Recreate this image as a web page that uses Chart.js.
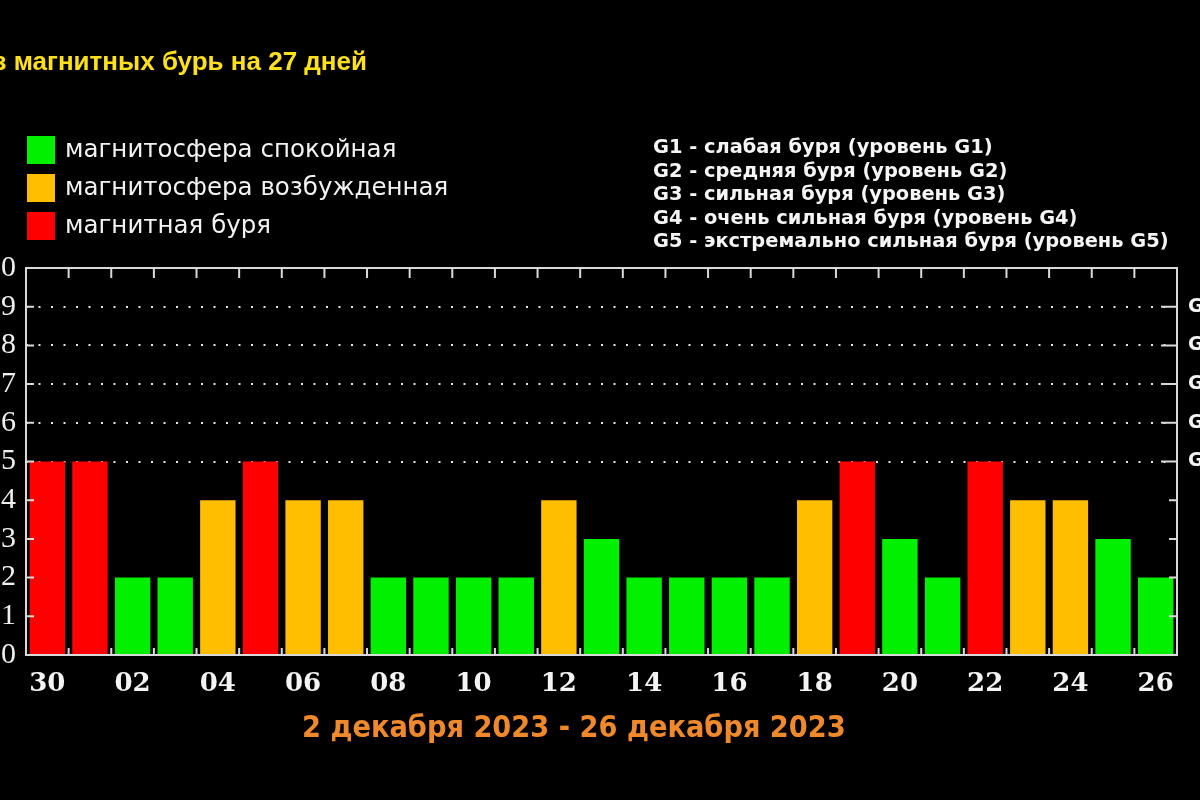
<!DOCTYPE html>
<html>
<head>
<meta charset="utf-8">
<script src="https://cdn.jsdelivr.net/npm/chart.js@4.4.1/dist/chart.umd.min.js"></script>
<style>
  body { margin: 0; background: #000; overflow: hidden; }
  #wrap { position: relative; width: 1200px; height: 800px; overflow: hidden; background: #000; }
  #chartBox { position: absolute; left: 0; top: 0; width: 1200px; height: 800px; }
  #title { position: absolute; right: 833px; top: 46px; white-space: nowrap;
           font: bold 26px "Liberation Sans", Arial, sans-serif; color: #ffe01b; }
  .leg { position: absolute; left: 27px; height: 28px; white-space: nowrap; }
  .leg span.box { position: absolute; left: 0; top: 0; width: 28px; height: 28px; }
  .leg span.txt { position: absolute; left: 38px; top: -2px; line-height: 28px;
                  font: 24.5px "DejaVu Sans", sans-serif; color: #f2f2f2; }
  #gscale { position: absolute; left: 653px; top: 135px; white-space: nowrap;
            font: bold 19.4px "DejaVu Sans", sans-serif; color: #f5f5f5; line-height: 23.5px; }
  #period { position: absolute; left: 302px; top: 709px; white-space: nowrap;
            font: bold 30.3px "DejaVu Sans Condensed", sans-serif; color: #f0892b; }
</style>
</head>
<body>
<div id="wrap">
  <div id="chartBox"><canvas id="myChart"></canvas></div>
  <div id="title">Прогноз магнитных бурь на 27 дней</div>
  <div id="legend"></div>
  <div id="gscale"></div>
  <div id="period">2 декабря 2023 - 26 декабря 2023</div>
</div>
<script>
// days of the forecast (30 Nov .. 26 Dec)
var days = ['30', '01', '02', '03', '04', '05', '06', '07', '08', '09', '10', '11', '12', '13',
            '14', '15', '16', '17', '18', '19', '20', '21', '22', '23', '24', '25', '26'];
var kpValues = [5, 5, 2, 2, 4, 5, 4, 4, 2, 2, 2, 2, 4, 3, 2, 2, 2, 2, 4, 5, 3, 2, 5, 4, 4, 3, 2];

var legendLabels = ['магнитосфера спокойная', 'магнитосфера возбужденная', 'магнитная буря'];
var legendColors = ['#00f000', '#ffbf00', '#ff0000'];

var gLevels = [5, 6, 7, 8, 9];
var gLabels = ['G1', 'G2', 'G3', 'G4', 'G5'];
var gDescriptions = [
  'G1 - слабая буря (уровень G1)',
  'G2 - средняя буря (уровень G2)',
  'G3 - сильная буря (уровень G3)',
  'G4 - очень сильная буря (уровень G4)',
  'G5 - экстремально сильная буря (уровень G5)'
];

// quiet up to 3, active at 4, storm from 5
function colorFor(v) {
  if (v >= 5) return legendColors[2];
  if (v >= 4) return legendColors[1];
  return legendColors[0];
}

// legend + G scale text
var legendEl = document.getElementById('legend');
legendLabels.forEach(function (lbl, i) {
  var row = document.createElement('div');
  row.className = 'leg';
  row.style.top = (136 + i * 38) + 'px';
  row.innerHTML = '<span class="box" style="background:' + legendColors[i] + '"></span>' +
                  '<span class="txt">' + lbl + '</span>';
  legendEl.appendChild(row);
});
document.getElementById('gscale').innerHTML = gDescriptions.join('<br>');

// frame with inward tick marks
var framePlugin = {
  id: 'frame',
  afterDatasetsDraw: function (chart) {
    var ctx = chart.ctx, a = chart.chartArea, x = chart.scales.x, y = chart.scales.y;
    ctx.save();
    ctx.strokeStyle = '#d9d9d9';
    ctx.lineWidth = 2;
    ctx.strokeRect(a.left, a.top, a.right - a.left, a.bottom - a.top);
    ctx.beginPath();
    for (var v = 1; v < 10; v++) {
      var py = y.getPixelForValue(v);
      ctx.moveTo(a.left, py); ctx.lineTo(a.left + 8, py);
      ctx.moveTo(a.right, py); ctx.lineTo(a.right - (v >= 5 ? 16 : 8), py);
    }
    for (var i = 0; i < days.length - 1; i++) {
      var px = (x.getPixelForValue(i) + x.getPixelForValue(i + 1)) / 2;
      ctx.moveTo(px, a.top); ctx.lineTo(px, a.top + 10);
      ctx.moveTo(px, a.bottom); ctx.lineTo(px, a.bottom - 7);
    }
    ctx.stroke();
    ctx.restore();
  }
};

var ctx = document.getElementById('myChart').getContext('2d');
var myChart = new Chart(ctx, {
  type: 'bar',
  data: {
    labels: days,
    datasets: [{
      data: kpValues,
      backgroundColor: kpValues.map(colorFor),
      borderWidth: 0,
      barPercentage: 0.83,
      categoryPercentage: 1
    }]
  },
  options: {
    responsive: true,
    maintainAspectRatio: false,
    animation: false,
    layout: { padding: { top: 268, left: 0, right: 0, bottom: 0 } },
    plugins: { legend: { display: false }, tooltip: { enabled: false } },
    scales: {
      x: {
        grid: { display: false, drawTicks: false },
        border: { display: false },
        ticks: {
          autoSkip: false, maxRotation: 0, padding: 14, color: '#f4f4f4',
          font: { family: 'DejaVu Serif', weight: 'bold', size: 26 },
          callback: function (val, i) { return i % 2 === 0 ? days[i] : ''; }
        },
        afterFit: function (s) { s.height = 145; }
      },
      y: {
        min: 0, max: 10,
        grid: {
          drawTicks: false, lineWidth: 2,
          color: function (c) {
            return c.tick && c.tick.value >= 5 && c.tick.value <= 9 ? '#e6e6e6' : 'rgba(0,0,0,0)';
          }
        },
        border: { display: false, dash: [2, 10.5] },
        ticks: {
          stepSize: 1, autoSkip: false, padding: 10, color: '#f0f0f0',
          font: { family: 'Liberation Serif', size: 30 }
        },
        afterFit: function (s) { s.width = 26; }
      },
      y2: {
        position: 'right', min: 0, max: 10,
        grid: { display: false, drawTicks: false },
        border: { display: false },
        ticks: {
          stepSize: 1, autoSkip: false, padding: 11, color: '#f5f5f5',
          font: { family: 'DejaVu Sans', weight: 'bold', size: 19 },
          callback: function (v) {
            var k = gLevels.indexOf(v);
            return k >= 0 ? gLabels[k] : '';
          }
        },
        afterFit: function (s) { s.width = 23; }
      }
    }
  },
  plugins: [framePlugin]
});
</script>
</body>
</html>
